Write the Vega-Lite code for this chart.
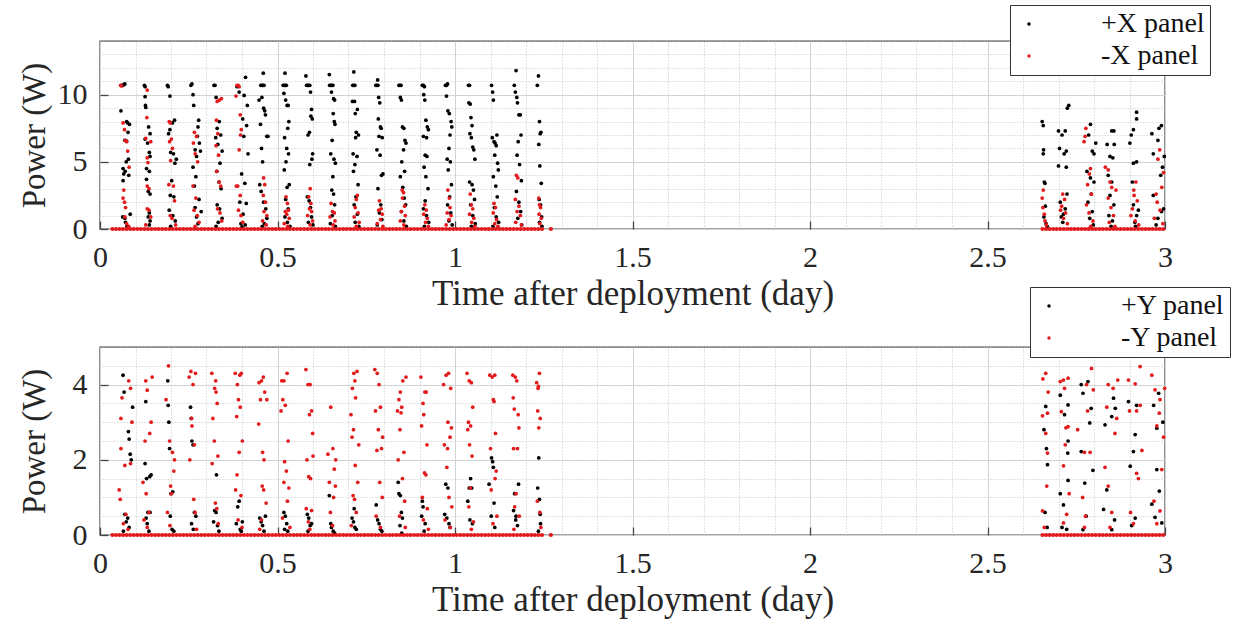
{
"$schema":"https://vega.github.io/schema/vega-lite/v6.json",
"padding":{"left":17,"top":3,"right":1,"bottom":1},
"background":"#ffffff",
"config":{"font":"Liberation Serif","view":{"stroke":"#4a4a4a","strokeWidth":1.4},"axis":{"labelFont":"Liberation Serif","titleFont":"Liberation Serif","labelColor":"#262626","titleColor":"#262626","titleFontWeight":"normal"}},
"bounds":"flush",
"spacing":118,
"resolve":{"scale":{"color":"independent"},"legend":{"color":"independent"}},
"datasets":{
"px":[
{"t":0.061,"p":10.7},{"t":0.064,"p":10.7},{"t":0.067,"p":10.75},{"t":0.070,"p":10.8},{"t":0.059,"p":8.8},{"t":0.075,"p":8.0},{"t":0.078,"p":7.9},{"t":0.083,"p":7.8},{"t":0.079,"p":7.2},{"t":0.070,"p":6.6},{"t":0.075,"p":6.55},{"t":0.074,"p":5.0},{"t":0.080,"p":5.2},{"t":0.065,"p":4.5},{"t":0.067,"p":4.1},{"t":0.065,"p":3.6},{"t":0.071,"p":4.3},{"t":0.081,"p":4.0},{"t":0.064,"p":0.9},{"t":0.072,"p":0.5},{"t":0.076,"p":0.2},{"t":0.070,"p":0.8},{"t":0.085,"p":1.1},
{"t":0.125,"p":10.7},{"t":0.127,"p":10.6},{"t":0.127,"p":9.85},{"t":0.128,"p":9.2},{"t":0.129,"p":9.05},{"t":0.137,"p":7.6},{"t":0.141,"p":7.1},{"t":0.127,"p":6.7},{"t":0.134,"p":6.4},{"t":0.139,"p":5.7},{"t":0.141,"p":5.4},{"t":0.131,"p":4.5},{"t":0.139,"p":4.3},{"t":0.131,"p":3.7},{"t":0.136,"p":2.8},{"t":0.141,"p":2.6},{"t":0.136,"p":0.9},{"t":0.139,"p":1.2},{"t":0.141,"p":0.6},{"t":0.139,"p":0.3},
{"t":0.190,"p":10.7},{"t":0.192,"p":10.6},{"t":0.197,"p":9.9},{"t":0.210,"p":8.1},{"t":0.204,"p":7.9},{"t":0.193,"p":7.1},{"t":0.197,"p":7.4},{"t":0.207,"p":5.6},{"t":0.211,"p":4.9},{"t":0.199,"p":5.7},{"t":0.215,"p":5.2},{"t":0.202,"p":3.6},{"t":0.198,"p":2.5},{"t":0.208,"p":2.4},{"t":0.205,"p":1.0},{"t":0.199,"p":0.2},{"t":0.212,"p":0.6},{"t":0.195,"p":1.4},
{"t":0.256,"p":10.7},{"t":0.259,"p":10.8},{"t":0.262,"p":10.0},{"t":0.264,"p":9.2},{"t":0.278,"p":8.1},{"t":0.276,"p":7.6},{"t":0.274,"p":6.9},{"t":0.280,"p":6.4},{"t":0.268,"p":5.9},{"t":0.272,"p":5.4},{"t":0.283,"p":5.8},{"t":0.262,"p":4.6},{"t":0.270,"p":3.9},{"t":0.266,"p":3.2},{"t":0.279,"p":2.2},{"t":0.285,"p":1.3},{"t":0.272,"p":0.9},{"t":0.276,"p":0.4},{"t":0.268,"p":1.6},
{"t":0.321,"p":10.7},{"t":0.324,"p":10.7},{"t":0.327,"p":9.8},{"t":0.336,"p":8.0},{"t":0.330,"p":7.5},{"t":0.340,"p":7.0},{"t":0.326,"p":6.8},{"t":0.332,"p":6.3},{"t":0.344,"p":5.8},{"t":0.338,"p":4.9},{"t":0.329,"p":4.3},{"t":0.335,"p":3.5},{"t":0.341,"p":3.0},{"t":0.330,"p":1.8},{"t":0.337,"p":1.5},{"t":0.344,"p":0.8},{"t":0.333,"p":0.5},{"t":0.327,"p":0.2},
{"t":0.386,"p":10.6},{"t":0.392,"p":10.2},{"t":0.410,"p":11.3},{"t":0.406,"p":9.95},{"t":0.415,"p":9.2},{"t":0.402,"p":8.2},{"t":0.413,"p":7.7},{"t":0.405,"p":6.9},{"t":0.417,"p":5.6},{"t":0.399,"p":4.1},{"t":0.408,"p":3.4},{"t":0.394,"p":2.0},{"t":0.412,"p":1.9},{"t":0.403,"p":1.1},{"t":0.397,"p":0.4},{"t":0.409,"p":0.3},{"t":0.400,"p":0.15},
{"t":0.453,"p":10.7},{"t":0.456,"p":10.7},{"t":0.459,"p":10.7},{"t":0.462,"p":10.7},{"t":0.460,"p":11.6},{"t":0.448,"p":9.6},{"t":0.456,"p":9.8},{"t":0.461,"p":9.0},{"t":0.464,"p":8.8},{"t":0.466,"p":8.5},{"t":0.470,"p":6.9},{"t":0.473,"p":6.9},{"t":0.452,"p":7.8},{"t":0.455,"p":6.0},{"t":0.458,"p":5.0},{"t":0.450,"p":3.3},{"t":0.454,"p":2.8},{"t":0.461,"p":2.0},{"t":0.467,"p":1.5},{"t":0.470,"p":0.8},{"t":0.463,"p":0.4},{"t":0.457,"p":0.2},
{"t":0.516,"p":10.7},{"t":0.519,"p":10.7},{"t":0.522,"p":10.7},{"t":0.525,"p":10.7},{"t":0.521,"p":11.6},{"t":0.518,"p":10.1},{"t":0.523,"p":9.6},{"t":0.527,"p":9.2},{"t":0.530,"p":9.2},{"t":0.532,"p":8.0},{"t":0.529,"p":7.5},{"t":0.520,"p":6.8},{"t":0.526,"p":6.0},{"t":0.531,"p":5.6},{"t":0.524,"p":5.0},{"t":0.519,"p":4.4},{"t":0.527,"p":3.1},{"t":0.533,"p":3.3},{"t":0.523,"p":2.2},{"t":0.530,"p":1.5},{"t":0.521,"p":0.9},{"t":0.528,"p":0.5},{"t":0.535,"p":0.2},
{"t":0.582,"p":10.7},{"t":0.585,"p":10.7},{"t":0.588,"p":10.7},{"t":0.591,"p":10.7},{"t":0.580,"p":11.4},{"t":0.593,"p":10.2},{"t":0.596,"p":8.9},{"t":0.594,"p":8.4},{"t":0.598,"p":8.2},{"t":0.590,"p":7.2},{"t":0.586,"p":7.0},{"t":0.599,"p":5.6},{"t":0.597,"p":5.2},{"t":0.591,"p":4.8},{"t":0.584,"p":2.4},{"t":0.589,"p":2.1},{"t":0.593,"p":1.6},{"t":0.596,"p":0.9},{"t":0.587,"p":0.5},{"t":0.600,"p":0.3},
{"t":0.647,"p":10.7},{"t":0.650,"p":10.7},{"t":0.653,"p":10.7},{"t":0.656,"p":10.7},{"t":0.646,"p":11.5},{"t":0.652,"p":10.2},{"t":0.658,"p":9.7},{"t":0.661,"p":9.6},{"t":0.660,"p":8.0},{"t":0.662,"p":7.8},{"t":0.657,"p":8.6},{"t":0.654,"p":6.6},{"t":0.650,"p":5.6},{"t":0.659,"p":5.2},{"t":0.663,"p":4.9},{"t":0.656,"p":3.9},{"t":0.653,"p":2.9},{"t":0.658,"p":2.6},{"t":0.661,"p":1.8},{"t":0.654,"p":1.0},{"t":0.649,"p":0.4},{"t":0.663,"p":0.2},
{"t":0.712,"p":10.7},{"t":0.715,"p":10.7},{"t":0.718,"p":10.7},{"t":0.715,"p":11.7},{"t":0.711,"p":9.5},{"t":0.717,"p":9.5},{"t":0.719,"p":8.6},{"t":0.725,"p":8.9},{"t":0.722,"p":7.2},{"t":0.728,"p":7.0},{"t":0.720,"p":6.8},{"t":0.713,"p":5.6},{"t":0.724,"p":5.4},{"t":0.718,"p":4.8},{"t":0.714,"p":4.3},{"t":0.727,"p":3.3},{"t":0.721,"p":2.4},{"t":0.716,"p":1.8},{"t":0.725,"p":1.1},{"t":0.719,"p":0.5},{"t":0.729,"p":0.2},
{"t":0.777,"p":10.7},{"t":0.780,"p":10.7},{"t":0.783,"p":10.7},{"t":0.782,"p":11.1},{"t":0.785,"p":9.8},{"t":0.788,"p":9.4},{"t":0.784,"p":8.2},{"t":0.790,"p":7.6},{"t":0.792,"p":7.5},{"t":0.786,"p":6.9},{"t":0.795,"p":6.8},{"t":0.780,"p":5.9},{"t":0.789,"p":5.5},{"t":0.793,"p":4.0},{"t":0.797,"p":4.1},{"t":0.783,"p":3.0},{"t":0.791,"p":1.8},{"t":0.787,"p":1.2},{"t":0.794,"p":0.7},{"t":0.781,"p":0.3},
{"t":0.842,"p":10.7},{"t":0.845,"p":10.7},{"t":0.848,"p":10.7},{"t":0.846,"p":9.8},{"t":0.849,"p":9.6},{"t":0.852,"p":7.6},{"t":0.856,"p":7.5},{"t":0.859,"p":6.6},{"t":0.862,"p":6.4},{"t":0.855,"p":5.9},{"t":0.850,"p":5.0},{"t":0.858,"p":4.3},{"t":0.846,"p":3.9},{"t":0.853,"p":3.1},{"t":0.857,"p":2.3},{"t":0.861,"p":1.8},{"t":0.849,"p":1.3},{"t":0.856,"p":0.6},{"t":0.863,"p":0.2},
{"t":0.908,"p":10.7},{"t":0.911,"p":10.7},{"t":0.914,"p":10.6},{"t":0.912,"p":10.0},{"t":0.915,"p":9.6},{"t":0.918,"p":8.1},{"t":0.922,"p":7.6},{"t":0.925,"p":7.4},{"t":0.920,"p":6.8},{"t":0.911,"p":6.9},{"t":0.916,"p":5.5},{"t":0.921,"p":5.4},{"t":0.913,"p":4.6},{"t":0.918,"p":3.9},{"t":0.924,"p":3.0},{"t":0.916,"p":2.1},{"t":0.911,"p":1.5},{"t":0.920,"p":1.0},{"t":0.926,"p":0.5},{"t":0.914,"p":0.2},
{"t":0.973,"p":10.7},{"t":0.976,"p":10.7},{"t":0.979,"p":10.8},{"t":0.976,"p":9.9},{"t":0.980,"p":8.8},{"t":0.984,"p":8.6},{"t":0.989,"p":8.0},{"t":0.991,"p":7.6},{"t":0.986,"p":7.0},{"t":0.983,"p":6.0},{"t":0.978,"p":5.2},{"t":0.987,"p":5.0},{"t":0.981,"p":4.4},{"t":0.990,"p":3.3},{"t":0.985,"p":2.4},{"t":0.979,"p":1.8},{"t":0.988,"p":1.2},{"t":0.983,"p":0.6},{"t":0.992,"p":0.3},
{"t":1.038,"p":10.7},{"t":1.041,"p":10.7},{"t":1.039,"p":9.4},{"t":1.043,"p":9.3},{"t":1.045,"p":8.3},{"t":1.048,"p":7.7},{"t":1.042,"p":7.1},{"t":1.050,"p":6.1},{"t":1.053,"p":5.9},{"t":1.046,"p":6.8},{"t":1.056,"p":5.2},{"t":1.041,"p":3.5},{"t":1.048,"p":3.3},{"t":1.052,"p":2.9},{"t":1.055,"p":2.2},{"t":1.044,"p":1.8},{"t":1.050,"p":1.0},{"t":1.057,"p":0.4},{"t":1.046,"p":0.2},
{"t":1.103,"p":10.7},{"t":1.106,"p":10.2},{"t":1.108,"p":9.6},{"t":1.105,"p":6.8},{"t":1.110,"p":6.5},{"t":1.113,"p":6.4},{"t":1.116,"p":6.2},{"t":1.118,"p":7.0},{"t":1.112,"p":5.5},{"t":1.120,"p":4.9},{"t":1.122,"p":4.4},{"t":1.108,"p":3.9},{"t":1.115,"p":3.2},{"t":1.119,"p":2.4},{"t":1.111,"p":1.6},{"t":1.116,"p":0.9},{"t":1.123,"p":0.5},{"t":1.107,"p":0.2},
{"t":1.167,"p":10.7},{"t":1.170,"p":10.2},{"t":1.172,"p":11.8},{"t":1.174,"p":9.8},{"t":1.176,"p":9.4},{"t":1.180,"p":8.5},{"t":1.184,"p":8.5},{"t":1.186,"p":7.0},{"t":1.178,"p":6.5},{"t":1.175,"p":5.5},{"t":1.182,"p":4.8},{"t":1.187,"p":3.6},{"t":1.173,"p":2.8},{"t":1.180,"p":2.0},{"t":1.185,"p":1.3},{"t":1.177,"p":0.8},{"t":1.188,"p":0.3},
{"t":1.232,"p":10.7},{"t":1.235,"p":11.4},{"t":1.238,"p":8.0},{"t":1.240,"p":7.1},{"t":1.242,"p":7.2},{"t":1.236,"p":6.3},{"t":1.239,"p":4.7},{"t":1.243,"p":3.4},{"t":1.237,"p":2.2},{"t":1.241,"p":1.8},{"t":1.244,"p":0.9},{"t":1.238,"p":0.5},{"t":1.245,"p":0.2},
{"t":2.654,"p":8.0},{"t":2.657,"p":7.7},{"t":2.658,"p":5.9},{"t":2.657,"p":5.6},{"t":2.660,"p":3.5},{"t":2.662,"p":3.4},{"t":2.663,"p":1.7},{"t":2.659,"p":0.9},{"t":2.665,"p":0.4},{"t":2.668,"p":0.2},
{"t":2.729,"p":9.2},{"t":2.725,"p":9.0},{"t":2.700,"p":7.3},{"t":2.710,"p":7.0},{"t":2.719,"p":7.3},{"t":2.722,"p":5.8},{"t":2.703,"p":6.0},{"t":2.716,"p":5.6},{"t":2.700,"p":4.7},{"t":2.722,"p":4.6},{"t":2.705,"p":2.0},{"t":2.708,"p":0.9},{"t":2.719,"p":1.5},{"t":2.712,"p":0.5},{"t":2.724,"p":2.6},{"t":2.714,"p":1.1},
{"t":2.790,"p":7.8},{"t":2.785,"p":7.0},{"t":2.805,"p":6.4},{"t":2.795,"p":5.8},{"t":2.800,"p":5.6},{"t":2.780,"p":4.3},{"t":2.790,"p":3.8},{"t":2.800,"p":3.5},{"t":2.783,"p":2.0},{"t":2.795,"p":1.3},{"t":2.788,"p":0.8},{"t":2.798,"p":0.3},{"t":2.792,"p":2.6},
{"t":2.856,"p":7.3},{"t":2.850,"p":7.3},{"t":2.837,"p":6.3},{"t":2.857,"p":6.3},{"t":2.845,"p":5.4},{"t":2.853,"p":5.3},{"t":2.840,"p":4.0},{"t":2.850,"p":3.5},{"t":2.845,"p":2.5},{"t":2.856,"p":1.8},{"t":2.842,"p":1.0},{"t":2.852,"p":0.6},{"t":2.848,"p":0.2},
{"t":2.920,"p":8.7},{"t":2.920,"p":8.2},{"t":2.911,"p":7.4},{"t":2.905,"p":7.0},{"t":2.901,"p":6.4},{"t":2.911,"p":4.9},{"t":2.920,"p":5.0},{"t":2.908,"p":3.5},{"t":2.911,"p":1.8},{"t":2.920,"p":1.0},{"t":2.915,"p":0.5},{"t":2.925,"p":1.4},{"t":2.917,"p":0.2},
{"t":2.983,"p":7.5},{"t":2.990,"p":7.7},{"t":2.963,"p":7.1},{"t":2.980,"p":6.6},{"t":2.967,"p":5.6},{"t":2.988,"p":4.0},{"t":2.993,"p":4.6},{"t":2.967,"p":2.5},{"t":2.990,"p":1.3},{"t":2.980,"p":0.8},{"t":2.996,"p":1.5},{"t":2.975,"p":0.3},{"t":2.998,"p":5.4}
],
"mx":[
{"t":0.058,"p":10.7},{"t":0.061,"p":10.65},{"t":0.065,"p":7.9},{"t":0.069,"p":7.4},{"t":0.071,"p":6.6},{"t":0.075,"p":6.5},{"t":0.078,"p":5.8},{"t":0.082,"p":4.6},{"t":0.067,"p":2.9},{"t":0.065,"p":2.3},{"t":0.069,"p":2.0},{"t":0.072,"p":1.6},{"t":0.070,"p":0.9},{"t":0.075,"p":0.4},{"t":0.081,"p":0.2},
{"t":0.133,"p":10.35},{"t":0.132,"p":8.3},{"t":0.129,"p":6.75},{"t":0.143,"p":6.5},{"t":0.133,"p":5.3},{"t":0.135,"p":4.95},{"t":0.133,"p":3.2},{"t":0.138,"p":3.0},{"t":0.133,"p":1.5},{"t":0.138,"p":1.4},{"t":0.143,"p":0.9},{"t":0.129,"p":0.3},
{"t":0.195,"p":8.0},{"t":0.198,"p":7.9},{"t":0.201,"p":6.7},{"t":0.196,"p":6.5},{"t":0.204,"p":6.0},{"t":0.199,"p":5.1},{"t":0.194,"p":3.3},{"t":0.207,"p":3.2},{"t":0.210,"p":2.1},{"t":0.198,"p":1.0},{"t":0.203,"p":0.8},{"t":0.213,"p":0.3},
{"t":0.266,"p":7.2},{"t":0.272,"p":6.9},{"t":0.263,"p":6.4},{"t":0.268,"p":5.6},{"t":0.275,"p":5.0},{"t":0.262,"p":3.2},{"t":0.270,"p":2.3},{"t":0.265,"p":1.4},{"t":0.274,"p":1.0},{"t":0.279,"p":0.5},{"t":0.268,"p":0.2},
{"t":0.330,"p":9.5},{"t":0.336,"p":9.6},{"t":0.342,"p":9.7},{"t":0.328,"p":8.1},{"t":0.332,"p":7.1},{"t":0.327,"p":6.2},{"t":0.334,"p":5.5},{"t":0.329,"p":4.3},{"t":0.336,"p":3.5},{"t":0.340,"p":3.2},{"t":0.331,"p":1.5},{"t":0.338,"p":1.2},{"t":0.343,"p":0.6},
{"t":0.386,"p":10.7},{"t":0.389,"p":10.7},{"t":0.392,"p":10.6},{"t":0.383,"p":9.9},{"t":0.395,"p":8.5},{"t":0.398,"p":7.4},{"t":0.396,"p":7.0},{"t":0.392,"p":5.9},{"t":0.388,"p":3.2},{"t":0.384,"p":3.2},{"t":0.395,"p":2.5},{"t":0.390,"p":1.4},{"t":0.397,"p":1.0},{"t":0.402,"p":0.5},
{"t":0.461,"p":3.8},{"t":0.464,"p":3.3},{"t":0.460,"p":2.5},{"t":0.466,"p":2.0},{"t":0.462,"p":1.3},{"t":0.470,"p":1.0},{"t":0.458,"p":0.6},{"t":0.468,"p":0.3},
{"t":0.524,"p":2.4},{"t":0.528,"p":1.9},{"t":0.522,"p":1.3},{"t":0.531,"p":1.4},{"t":0.526,"p":1.1},{"t":0.533,"p":0.8},{"t":0.519,"p":0.4},{"t":0.529,"p":0.2},
{"t":0.592,"p":3.0},{"t":0.588,"p":2.4},{"t":0.594,"p":1.9},{"t":0.590,"p":1.5},{"t":0.596,"p":1.3},{"t":0.585,"p":1.0},{"t":0.599,"p":0.6},{"t":0.592,"p":0.3},
{"t":0.651,"p":1.9},{"t":0.655,"p":1.3},{"t":0.660,"p":1.2},{"t":0.648,"p":0.9},{"t":0.662,"p":0.6},{"t":0.657,"p":0.3},
{"t":0.725,"p":2.5},{"t":0.722,"p":2.2},{"t":0.719,"p":1.6},{"t":0.727,"p":1.2},{"t":0.716,"p":0.9},{"t":0.730,"p":0.5},{"t":0.722,"p":0.2},
{"t":0.787,"p":2.1},{"t":0.792,"p":1.5},{"t":0.785,"p":1.4},{"t":0.795,"p":1.1},{"t":0.790,"p":0.7},{"t":0.781,"p":0.4},{"t":0.797,"p":0.2},
{"t":0.851,"p":2.9},{"t":0.855,"p":2.7},{"t":0.852,"p":2.3},{"t":0.858,"p":1.7},{"t":0.849,"p":1.3},{"t":0.860,"p":1.0},{"t":0.846,"p":0.6},{"t":0.856,"p":0.3},
{"t":0.915,"p":1.8},{"t":0.919,"p":1.4},{"t":0.912,"p":1.1},{"t":0.922,"p":0.8},{"t":0.917,"p":0.5},{"t":0.925,"p":0.2},
{"t":0.980,"p":2.9},{"t":0.984,"p":2.3},{"t":0.986,"p":1.6},{"t":0.978,"p":1.2},{"t":0.989,"p":1.0},{"t":0.983,"p":0.7},{"t":0.975,"p":0.3},
{"t":1.043,"p":2.6},{"t":1.046,"p":1.8},{"t":1.050,"p":1.5},{"t":1.041,"p":1.1},{"t":1.053,"p":0.8},{"t":1.047,"p":0.5},{"t":1.056,"p":0.2},
{"t":1.110,"p":1.9},{"t":1.114,"p":1.6},{"t":1.108,"p":1.2},{"t":1.117,"p":0.7},{"t":1.112,"p":0.4},{"t":1.121,"p":0.2},
{"t":1.173,"p":4.0},{"t":1.177,"p":3.8},{"t":1.170,"p":2.2},{"t":1.180,"p":1.7},{"t":1.175,"p":1.3},{"t":1.184,"p":1.0},{"t":1.171,"p":0.5},{"t":1.187,"p":0.3},
{"t":1.236,"p":2.3},{"t":1.238,"p":1.8},{"t":1.241,"p":1.6},{"t":1.237,"p":1.1},{"t":1.243,"p":0.8},{"t":1.239,"p":0.4},
{"t":2.657,"p":2.9},{"t":2.654,"p":2.3},{"t":2.656,"p":1.6},{"t":2.660,"p":1.1},{"t":2.662,"p":0.6},{"t":2.666,"p":0.3},
{"t":2.712,"p":2.6},{"t":2.717,"p":2.2},{"t":2.709,"p":1.7},{"t":2.720,"p":1.2},{"t":2.714,"p":0.8},{"t":2.725,"p":0.4},{"t":2.706,"p":1.4},
{"t":2.777,"p":7.5},{"t":2.775,"p":6.9},{"t":2.772,"p":6.5},{"t":2.790,"p":4.5},{"t":2.787,"p":4.1},{"t":2.782,"p":3.3},{"t":2.793,"p":2.6},{"t":2.779,"p":1.8},{"t":2.786,"p":1.2},{"t":2.797,"p":0.6},{"t":2.791,"p":0.2},
{"t":2.832,"p":4.6},{"t":2.840,"p":4.4},{"t":2.845,"p":3.5},{"t":2.850,"p":3.1},{"t":2.862,"p":2.9},{"t":2.840,"p":2.3},{"t":2.848,"p":1.6},{"t":2.855,"p":1.0},{"t":2.843,"p":0.5},{"t":2.859,"p":0.2},
{"t":2.918,"p":3.5},{"t":2.913,"p":2.5},{"t":2.908,"p":1.5},{"t":2.922,"p":2.1},{"t":2.904,"p":1.0},{"t":2.916,"p":0.6},{"t":2.926,"p":0.3},{"t":2.912,"p":2.9},
{"t":2.980,"p":5.2},{"t":2.985,"p":5.9},{"t":2.991,"p":3.1},{"t":2.978,"p":2.0},{"t":2.996,"p":4.2},{"t":2.986,"p":1.4},{"t":2.970,"p":0.8},{"t":2.994,"p":0.4},{"t":2.975,"p":2.6}
],
"py":[
{"t":0.065,"p":4.25},{"t":0.068,"p":3.8},{"t":0.092,"p":3.4},{"t":0.080,"p":2.75},{"t":0.082,"p":2.55},{"t":0.085,"p":2.15},{"t":0.088,"p":2.0},{"t":0.070,"p":0.55},{"t":0.074,"p":0.35},{"t":0.082,"p":0.2},{"t":0.066,"p":0.1},{"t":0.078,"p":0.45},
{"t":0.127,"p":1.9},{"t":0.129,"p":3.55},{"t":0.131,"p":1.5},{"t":0.140,"p":1.55},{"t":0.144,"p":1.6},{"t":0.135,"p":0.6},{"t":0.141,"p":0.6},{"t":0.133,"p":0.3},{"t":0.138,"p":0.1},{"t":0.130,"p":0.45},
{"t":0.191,"p":4.1},{"t":0.192,"p":3.45},{"t":0.194,"p":3.0},{"t":0.196,"p":2.3},{"t":0.200,"p":1.1},{"t":0.205,"p":1.15},{"t":0.198,"p":0.5},{"t":0.203,"p":0.15},{"t":0.208,"p":0.1},
{"t":0.255,"p":3.4},{"t":0.257,"p":3.1},{"t":0.259,"p":2.5},{"t":0.262,"p":2.4},{"t":0.266,"p":0.6},{"t":0.270,"p":0.5},{"t":0.263,"p":0.15},{"t":0.258,"p":0.3},
{"t":0.328,"p":1.6},{"t":0.323,"p":0.65},{"t":0.327,"p":0.6},{"t":0.331,"p":0.25},{"t":0.335,"p":0.1},{"t":0.320,"p":0.35},
{"t":0.388,"p":0.75},{"t":0.392,"p":0.9},{"t":0.384,"p":0.3},{"t":0.398,"p":0.1},{"t":0.395,"p":0.15},{"t":0.401,"p":0.35},
{"t":0.450,"p":0.45},{"t":0.454,"p":0.35},{"t":0.458,"p":0.25},{"t":0.462,"p":0.1},{"t":0.466,"p":0.5},
{"t":0.518,"p":0.6},{"t":0.522,"p":0.5},{"t":0.526,"p":0.3},{"t":0.520,"p":0.15},{"t":0.529,"p":0.1},
{"t":0.584,"p":0.55},{"t":0.588,"p":0.45},{"t":0.592,"p":0.25},{"t":0.586,"p":0.1},{"t":0.596,"p":0.3},
{"t":0.646,"p":1.05},{"t":0.652,"p":0.2},{"t":0.657,"p":0.1},{"t":0.650,"p":0.3},{"t":0.661,"p":0.05},
{"t":0.710,"p":0.45},{"t":0.714,"p":0.35},{"t":0.718,"p":0.2},{"t":0.722,"p":0.15},{"t":0.716,"p":0.7},
{"t":0.778,"p":0.8},{"t":0.782,"p":0.4},{"t":0.786,"p":0.3},{"t":0.790,"p":0.15},{"t":0.794,"p":0.1},
{"t":0.840,"p":1.4},{"t":0.842,"p":1.1},{"t":0.846,"p":1.05},{"t":0.849,"p":0.6},{"t":0.852,"p":0.45},{"t":0.845,"p":0.25},{"t":0.850,"p":0.05},
{"t":0.908,"p":0.9},{"t":0.910,"p":0.75},{"t":0.906,"p":0.5},{"t":0.913,"p":0.1},{"t":0.916,"p":0.3},
{"t":0.974,"p":1.35},{"t":0.980,"p":1.25},{"t":0.977,"p":0.45},{"t":0.983,"p":0.3},{"t":0.986,"p":0.2},{"t":0.971,"p":0.55},
{"t":1.036,"p":0.9},{"t":1.040,"p":1.25},{"t":1.044,"p":1.5},{"t":1.047,"p":1.25},{"t":1.042,"p":0.4},{"t":1.049,"p":0.3},
{"t":1.096,"p":1.35},{"t":1.103,"p":2.05},{"t":1.106,"p":1.95},{"t":1.108,"p":1.8},{"t":1.110,"p":0.85},{"t":1.102,"p":0.5},{"t":1.112,"p":0.2},
{"t":1.165,"p":0.65},{"t":1.168,"p":1.1},{"t":1.172,"p":0.5},{"t":1.176,"p":0.25},{"t":1.179,"p":1.35},{"t":1.171,"p":0.4},
{"t":1.233,"p":1.25},{"t":1.236,"p":2.05},{"t":1.238,"p":0.95},{"t":1.240,"p":0.55},{"t":1.241,"p":0.3},{"t":1.235,"p":0.1},
{"t":2.664,"p":3.42},{"t":2.659,"p":2.8},{"t":2.666,"p":2.3},{"t":2.669,"p":1.87},{"t":2.662,"p":0.6},{"t":2.668,"p":0.2},
{"t":2.705,"p":3.72},{"t":2.727,"p":3.46},{"t":2.717,"p":3.2},{"t":2.727,"p":2.5},{"t":2.726,"p":2.18},{"t":2.727,"p":1.45},{"t":2.705,"p":1.1},{"t":2.714,"p":0.8},{"t":2.710,"p":0.2},{"t":2.723,"p":0.15},
{"t":2.764,"p":4.0},{"t":2.783,"p":4.08},{"t":2.769,"p":3.77},{"t":2.792,"p":3.37},{"t":2.788,"p":2.98},{"t":2.764,"p":2.22},{"t":2.797,"p":1.72},{"t":2.774,"p":1.38},{"t":2.778,"p":0.5},{"t":2.769,"p":0.14},
{"t":2.855,"p":3.64},{"t":2.860,"p":3.37},{"t":2.850,"p":3.15},{"t":2.831,"p":2.93},{"t":2.836,"p":1.2},{"t":2.827,"p":0.68},{"t":2.850,"p":0.14},{"t":2.858,"p":0.4},
{"t":2.897,"p":3.55},{"t":2.920,"p":3.45},{"t":2.916,"p":2.67},{"t":2.911,"p":2.22},{"t":2.902,"p":1.83},{"t":2.916,"p":0.45},{"t":2.906,"p":0.25},
{"t":2.968,"p":3.45},{"t":2.982,"p":3.77},{"t":2.994,"p":3.0},{"t":2.977,"p":2.84},{"t":2.977,"p":1.74},{"t":2.984,"p":1.17},{"t":2.963,"p":0.82},{"t":2.972,"p":0.47},{"t":2.991,"p":0.32}
],
"my":[
{"t":0.054,"p":1.2},{"t":0.057,"p":0.95},{"t":0.059,"p":3.1},{"t":0.062,"p":3.65},{"t":0.081,"p":4.1},{"t":0.086,"p":3.9},{"t":0.070,"p":1.85},{"t":0.086,"p":1.9},{"t":0.059,"p":2.3},{"t":0.073,"p":0.55},{"t":0.079,"p":0.15},{"t":0.066,"p":0.3},{"t":0.090,"p":3.0},
{"t":0.121,"p":1.4},{"t":0.129,"p":4.1},{"t":0.133,"p":3.85},{"t":0.127,"p":2.5},{"t":0.140,"p":2.7},{"t":0.144,"p":3.0},{"t":0.147,"p":4.2},{"t":0.124,"p":0.4},{"t":0.133,"p":0.2},{"t":0.138,"p":0.6},{"t":0.130,"p":1.1},
{"t":0.186,"p":3.6},{"t":0.193,"p":4.5},{"t":0.196,"p":2.5},{"t":0.204,"p":2.2},{"t":0.208,"p":1.7},{"t":0.199,"p":1.3},{"t":0.190,"p":0.6},{"t":0.197,"p":0.25},{"t":0.201,"p":1.1},{"t":0.210,"p":2.0},
{"t":0.251,"p":4.2},{"t":0.256,"p":4.35},{"t":0.262,"p":4.0},{"t":0.266,"p":2.4},{"t":0.259,"p":2.9},{"t":0.264,"p":0.95},{"t":0.268,"p":0.6},{"t":0.272,"p":0.15},{"t":0.253,"p":2.0},{"t":0.269,"p":4.3},{"t":0.258,"p":3.1},
{"t":0.315,"p":4.3},{"t":0.323,"p":3.9},{"t":0.326,"p":4.1},{"t":0.330,"p":3.5},{"t":0.327,"p":3.8},{"t":0.318,"p":3.1},{"t":0.332,"p":2.1},{"t":0.316,"p":1.9},{"t":0.325,"p":0.85},{"t":0.329,"p":0.7},{"t":0.333,"p":0.3},{"t":0.322,"p":2.5},
{"t":0.381,"p":4.3},{"t":0.387,"p":4.0},{"t":0.394,"p":4.25},{"t":0.398,"p":4.3},{"t":0.390,"p":3.6},{"t":0.395,"p":3.4},{"t":0.385,"p":3.15},{"t":0.401,"p":2.5},{"t":0.392,"p":2.2},{"t":0.386,"p":1.6},{"t":0.397,"p":1.05},{"t":0.389,"p":0.4},{"t":0.400,"p":0.2},{"t":0.382,"p":1.2},
{"t":0.448,"p":4.05},{"t":0.455,"p":4.1},{"t":0.460,"p":4.2},{"t":0.452,"p":3.6},{"t":0.464,"p":3.8},{"t":0.470,"p":3.6},{"t":0.447,"p":2.95},{"t":0.458,"p":2.2},{"t":0.462,"p":2.0},{"t":0.457,"p":1.3},{"t":0.461,"p":1.2},{"t":0.468,"p":0.85},{"t":0.455,"p":0.4},{"t":0.450,"p":0.15},
{"t":0.512,"p":4.1},{"t":0.518,"p":4.1},{"t":0.527,"p":4.3},{"t":0.515,"p":3.6},{"t":0.522,"p":3.45},{"t":0.530,"p":2.5},{"t":0.510,"p":3.3},{"t":0.520,"p":1.95},{"t":0.525,"p":1.7},{"t":0.518,"p":1.4},{"t":0.532,"p":1.25},{"t":0.528,"p":0.9},{"t":0.514,"p":0.45},{"t":0.535,"p":0.2},
{"t":0.580,"p":4.4},{"t":0.592,"p":4.0},{"t":0.586,"p":4.0},{"t":0.596,"p":3.3},{"t":0.590,"p":3.2},{"t":0.599,"p":2.7},{"t":0.583,"p":2.0},{"t":0.600,"p":2.1},{"t":0.588,"p":1.55},{"t":0.593,"p":1.5},{"t":0.581,"p":0.7},{"t":0.596,"p":0.65},{"t":0.587,"p":0.35},{"t":0.591,"p":0.15},
{"t":0.642,"p":2.15},{"t":0.650,"p":3.4},{"t":0.656,"p":2.3},{"t":0.660,"p":1.75},{"t":0.663,"p":1.3},{"t":0.658,"p":1.0},{"t":0.649,"p":0.6},{"t":0.655,"p":0.25},{"t":0.664,"p":2.0},{"t":0.646,"p":1.4},
{"t":0.707,"p":3.2},{"t":0.715,"p":4.3},{"t":0.718,"p":4.1},{"t":0.724,"p":4.35},{"t":0.711,"p":3.9},{"t":0.720,"p":3.65},{"t":0.714,"p":2.8},{"t":0.710,"p":2.6},{"t":0.719,"p":1.85},{"t":0.713,"p":1.05},{"t":0.717,"p":0.95},{"t":0.722,"p":0.6},{"t":0.708,"p":0.25},{"t":0.729,"p":2.4},{"t":0.726,"p":1.4},
{"t":0.774,"p":4.4},{"t":0.781,"p":4.3},{"t":0.786,"p":4.0},{"t":0.790,"p":3.4},{"t":0.776,"p":3.3},{"t":0.784,"p":2.8},{"t":0.793,"p":2.3},{"t":0.780,"p":2.25},{"t":0.788,"p":1.4},{"t":0.795,"p":1.0},{"t":0.778,"p":0.5},{"t":0.790,"p":0.2},{"t":0.796,"p":2.6},
{"t":0.838,"p":3.3},{"t":0.842,"p":3.6},{"t":0.846,"p":3.8},{"t":0.848,"p":3.25},{"t":0.850,"p":3.4},{"t":0.853,"p":4.1},{"t":0.845,"p":2.8},{"t":0.856,"p":2.2},{"t":0.840,"p":2.0},{"t":0.852,"p":1.5},{"t":0.858,"p":0.9},{"t":0.844,"p":0.5},{"t":0.860,"p":0.2},{"t":0.862,"p":4.2},
{"t":0.904,"p":4.2},{"t":0.910,"p":3.5},{"t":0.915,"p":3.8},{"t":0.919,"p":3.8},{"t":0.912,"p":3.2},{"t":0.921,"p":2.4},{"t":0.914,"p":1.65},{"t":0.918,"p":1.6},{"t":0.908,"p":1.0},{"t":0.922,"p":0.7},{"t":0.911,"p":0.4},{"t":0.925,"p":0.15},{"t":0.906,"p":2.9},
{"t":0.968,"p":4.0},{"t":0.975,"p":4.25},{"t":0.982,"p":4.3},{"t":0.988,"p":3.9},{"t":0.970,"p":2.4},{"t":0.979,"p":2.3},{"t":0.986,"p":2.6},{"t":0.990,"p":2.85},{"t":0.977,"p":1.8},{"t":0.983,"p":1.0},{"t":0.991,"p":0.75},{"t":0.972,"p":0.4},{"t":0.987,"p":0.2},{"t":0.980,"p":3.0},
{"t":1.034,"p":4.3},{"t":1.040,"p":4.1},{"t":1.046,"p":4.05},{"t":1.038,"p":3.0},{"t":1.044,"p":2.9},{"t":1.041,"p":2.4},{"t":1.048,"p":2.1},{"t":1.036,"p":2.8},{"t":1.050,"p":3.4},{"t":1.043,"p":1.25},{"t":1.039,"p":0.75},{"t":1.052,"p":0.35},{"t":1.046,"p":0.15},
{"t":1.098,"p":4.25},{"t":1.105,"p":4.2},{"t":1.110,"p":3.55},{"t":1.112,"p":4.25},{"t":1.100,"p":2.3},{"t":1.108,"p":3.6},{"t":1.116,"p":1.7},{"t":1.113,"p":1.5},{"t":1.102,"p":1.2},{"t":1.118,"p":0.5},{"t":1.107,"p":0.3},{"t":1.114,"p":2.7},
{"t":1.163,"p":4.25},{"t":1.170,"p":4.2},{"t":1.174,"p":4.1},{"t":1.164,"p":3.65},{"t":1.167,"p":3.35},{"t":1.178,"p":3.2},{"t":1.180,"p":2.85},{"t":1.165,"p":2.3},{"t":1.176,"p":2.3},{"t":1.172,"p":1.1},{"t":1.168,"p":0.75},{"t":1.181,"p":0.5},{"t":1.166,"p":0.15},
{"t":1.230,"p":4.05},{"t":1.234,"p":3.9},{"t":1.238,"p":4.3},{"t":1.233,"p":3.3},{"t":1.240,"p":3.1},{"t":1.236,"p":2.85},{"t":1.232,"p":0.9},{"t":1.239,"p":0.6},{"t":1.242,"p":0.2},{"t":1.235,"p":3.95},
{"t":2.664,"p":4.3},{"t":2.656,"p":4.15},{"t":2.671,"p":3.8},{"t":2.655,"p":3.17},{"t":2.669,"p":3.24},{"t":2.664,"p":2.7},{"t":2.669,"p":2.18},{"t":2.655,"p":0.64},{"t":2.660,"p":0.2},{"t":2.667,"p":1.3},
{"t":2.705,"p":4.08},{"t":2.714,"p":4.12},{"t":2.727,"p":4.17},{"t":2.717,"p":3.9},{"t":2.708,"p":3.28},{"t":2.727,"p":2.88},{"t":2.721,"p":2.85},{"t":2.714,"p":1.84},{"t":2.730,"p":1.1},{"t":2.723,"p":0.55},{"t":2.714,"p":0.32},{"t":2.719,"p":2.4},
{"t":2.793,"p":4.43},{"t":2.779,"p":4.0},{"t":2.798,"p":3.86},{"t":2.754,"p":2.8},{"t":2.773,"p":2.2},{"t":2.789,"p":2.2},{"t":2.768,"p":1.0},{"t":2.776,"p":0.5},{"t":2.773,"p":0.2},{"t":2.782,"p":3.3},
{"t":2.840,"p":4.0},{"t":2.854,"p":3.9},{"t":2.867,"p":4.12},{"t":2.864,"p":3.1},{"t":2.859,"p":2.7},{"t":2.831,"p":1.8},{"t":2.840,"p":1.3},{"t":2.845,"p":0.2},{"t":2.850,"p":0.6},{"t":2.836,"p":3.4},
{"t":2.897,"p":4.12},{"t":2.930,"p":4.48},{"t":2.916,"p":4.02},{"t":2.900,"p":3.3},{"t":2.920,"p":3.3},{"t":2.930,"p":3.45},{"t":2.935,"p":2.25},{"t":2.920,"p":1.64},{"t":2.925,"p":1.5},{"t":2.903,"p":0.6},{"t":2.911,"p":0.3},
{"t":2.963,"p":4.25},{"t":2.972,"p":3.86},{"t":2.986,"p":3.6},{"t":2.984,"p":3.24},{"t":2.977,"p":2.9},{"t":2.991,"p":1.74},{"t":2.969,"p":0.9},{"t":2.986,"p":0.64},{"t":2.977,"p":0.3},{"t":2.996,"p":2.6},{"t":2.999,"p":3.9}
],
"z":[
{"t":0.035},{"t":0.045},{"t":0.055},{"t":0.065},{"t":0.075},{"t":0.085},{"t":0.095},{"t":0.105},{"t":0.115},{"t":0.125},{"t":0.135},{"t":0.145},{"t":0.155},{"t":0.165},{"t":0.175},{"t":0.185},{"t":0.195},{"t":0.205},{"t":0.215},{"t":0.225},{"t":0.235},{"t":0.245},{"t":0.255},{"t":0.265},{"t":0.275},{"t":0.285},{"t":0.295},{"t":0.305},{"t":0.315},{"t":0.325},{"t":0.335},{"t":0.345},{"t":0.355},{"t":0.365},{"t":0.375},{"t":0.385},{"t":0.395},{"t":0.405},{"t":0.415},{"t":0.425},{"t":0.435},{"t":0.445},{"t":0.455},{"t":0.465},{"t":0.475},{"t":0.485},{"t":0.495},{"t":0.505},{"t":0.515},{"t":0.525},{"t":0.535},{"t":0.545},{"t":0.555},{"t":0.565},{"t":0.575},{"t":0.585},{"t":0.595},{"t":0.605},{"t":0.615},{"t":0.625},{"t":0.635},{"t":0.645},{"t":0.655},{"t":0.665},{"t":0.675},{"t":0.685},{"t":0.695},{"t":0.705},{"t":0.715},{"t":0.725},{"t":0.735},{"t":0.745},{"t":0.755},{"t":0.765},{"t":0.775},{"t":0.785},{"t":0.795},{"t":0.805},{"t":0.815},{"t":0.825},{"t":0.835},{"t":0.845},{"t":0.855},{"t":0.865},{"t":0.875},{"t":0.885},{"t":0.895},{"t":0.905},{"t":0.915},{"t":0.925},{"t":0.935},{"t":0.945},{"t":0.955},{"t":0.965},{"t":0.975},{"t":0.985},{"t":0.995},{"t":1.005},{"t":1.015},{"t":1.025},{"t":1.035},{"t":1.045},{"t":1.055},{"t":1.065},{"t":1.075},{"t":1.085},{"t":1.095},{"t":1.105},{"t":1.115},{"t":1.125},{"t":1.135},{"t":1.145},{"t":1.155},{"t":1.165},{"t":1.175},{"t":1.185},{"t":1.195},{"t":1.205},{"t":1.215},{"t":1.225},{"t":1.235},{"t":1.245},{"t":1.27},
{"t":2.655},{"t":2.665},{"t":2.675},{"t":2.685},{"t":2.695},{"t":2.705},{"t":2.715},{"t":2.725},{"t":2.735},{"t":2.745},{"t":2.755},{"t":2.765},{"t":2.775},{"t":2.785},{"t":2.795},{"t":2.805},{"t":2.815},{"t":2.825},{"t":2.835},{"t":2.845},{"t":2.855},{"t":2.865},{"t":2.875},{"t":2.885},{"t":2.895},{"t":2.905},{"t":2.915},{"t":2.925},{"t":2.935},{"t":2.945},{"t":2.955},{"t":2.965},{"t":2.975},{"t":2.985},{"t":2.995}
]
},
"vconcat":[
{
"width":1065,"height":188,
"resolve":{"axis":{"x":"independent","y":"independent"}},
"layer":[
{"data":{"name":"px"},"mark":{"type":"circle","size":14,"opacity":1},
"encoding":{
"x":{"field":"t","type":"quantitative","scale":{"domain":[0,3],"nice":false,"zero":false},"axis":{"orient":"bottom","values":[0,0.5,1,1.5,2,2.5,3],"format":".2~f","grid":true,"gridColor":"#d9d9d9","domain":false,"tickSize":-8,"tickColor":"#444444","tickWidth":1.3,"labelFontSize":30,"labelPadding":21,"labelFlush":false,"title":"Time after deployment (day)","titleFontSize":35,"titlePadding":4}},
"y":{"field":"p","type":"quantitative","scale":{"domain":[0,14],"nice":false},"axis":{"orient":"left","values":[0,5,10],"format":"d","grid":true,"gridColor":"#d9d9d9","domain":false,"tickSize":-8,"tickColor":"#444444","tickWidth":1.3,"labelFontSize":30,"labelPadding":21,"title":"Power (W)","titleFontSize":33,"titlePadding":6}},
"color":{"datum":"+X panel","type":"nominal","scale":{"domain":["+X panel","-X panel"],"range":["#000000","#e31a1c"]},"legend":{"orient":"none","legendX":910,"legendY":-36,"title":null,"direction":"vertical","labelFontSize":28,"labelFont":"Liberation Serif","labelColor":"#111111","labelOffset":58,"labelLimit":0,"padding":5,"rowPadding":4,"strokeColor":"#333333","fillColor":"#ffffff","symbolType":"circle","symbolSize":12,"symbolStrokeWidth":0}}
}},
{"data":{"name":"z"},"mark":{"type":"circle","size":18,"opacity":1},
"encoding":{"x":{"field":"t","type":"quantitative","axis":null},"y":{"datum":0,"type":"quantitative","axis":null},"color":{"datum":"-X panel","type":"nominal"}}},
{"data":{"name":"mx"},"mark":{"type":"circle","size":14,"opacity":1},
"encoding":{
"x":{"field":"t","type":"quantitative","axis":{"orient":"top","values":[0,0.1,0.2,0.3,0.4,0.5,0.6,0.7,0.8,0.9,1,1.1,1.2,1.3,1.4,1.5,1.6,1.7,1.8,1.9,2,2.1,2.2,2.3,2.4,2.5,2.6,2.7,2.8,2.9,3],"grid":true,"gridColor":"#c4c4c4","gridDash":[1,2],"ticks":false,"labels":false,"domain":false,"title":null}},
"y":{"field":"p","type":"quantitative","axis":{"orient":"right","values":[0,1,2,3,4,5,6,7,8,9,10,11,12,13,14],"grid":true,"gridColor":"#c4c4c4","gridDash":[1,2],"ticks":false,"labels":false,"domain":false,"title":null}},
"color":{"datum":"-X panel","type":"nominal"}
}}
]
},
{
"width":1065,"height":188,
"resolve":{"axis":{"x":"independent","y":"independent"}},
"layer":[
{"data":{"name":"py"},"mark":{"type":"circle","size":14,"opacity":1},
"encoding":{
"x":{"field":"t","type":"quantitative","scale":{"domain":[0,3],"nice":false,"zero":false},"axis":{"orient":"bottom","values":[0,0.5,1,1.5,2,2.5,3],"format":".2~f","grid":true,"gridColor":"#d9d9d9","domain":false,"tickSize":-8,"tickColor":"#444444","tickWidth":1.3,"labelFontSize":30,"labelPadding":21,"labelFlush":false,"title":"Time after deployment (day)","titleFontSize":35,"titlePadding":4}},
"y":{"field":"p","type":"quantitative","scale":{"domain":[0,5],"nice":false},"axis":{"orient":"left","values":[0,2,4],"format":"d","grid":true,"gridColor":"#d9d9d9","domain":false,"tickSize":-8,"tickColor":"#444444","tickWidth":1.3,"labelFontSize":30,"labelPadding":21,"title":"Power (W)","titleFontSize":33,"titlePadding":21}},
"color":{"datum":"+Y panel","type":"nominal","scale":{"domain":["+Y panel","-Y panel"],"range":["#000000","#e31a1c"]},"legend":{"orient":"none","legendX":930,"legendY":-60,"title":null,"direction":"vertical","labelFontSize":28,"labelFont":"Liberation Serif","labelColor":"#111111","labelOffset":58,"labelLimit":0,"padding":5,"rowPadding":4,"strokeColor":"#333333","fillColor":"#ffffff","symbolType":"circle","symbolSize":12,"symbolStrokeWidth":0}}
}},
{"data":{"name":"z"},"mark":{"type":"circle","size":18,"opacity":1},
"encoding":{"x":{"field":"t","type":"quantitative","axis":null},"y":{"datum":0,"type":"quantitative","axis":null},"color":{"datum":"-Y panel","type":"nominal"}}},
{"data":{"name":"my"},"mark":{"type":"circle","size":14,"opacity":1},
"encoding":{
"x":{"field":"t","type":"quantitative","axis":{"orient":"top","values":[0,0.1,0.2,0.3,0.4,0.5,0.6,0.7,0.8,0.9,1,1.1,1.2,1.3,1.4,1.5,1.6,1.7,1.8,1.9,2,2.1,2.2,2.3,2.4,2.5,2.6,2.7,2.8,2.9,3],"grid":true,"gridColor":"#c4c4c4","gridDash":[1,2],"ticks":false,"labels":false,"domain":false,"title":null}},
"y":{"field":"p","type":"quantitative","axis":{"orient":"right","values":[0,0.5,1,1.5,2,2.5,3,3.5,4,4.5,5],"grid":true,"gridColor":"#c4c4c4","gridDash":[1,2],"ticks":false,"labels":false,"domain":false,"title":null}},
"color":{"datum":"-Y panel","type":"nominal"}
}}
]
}
]
}
